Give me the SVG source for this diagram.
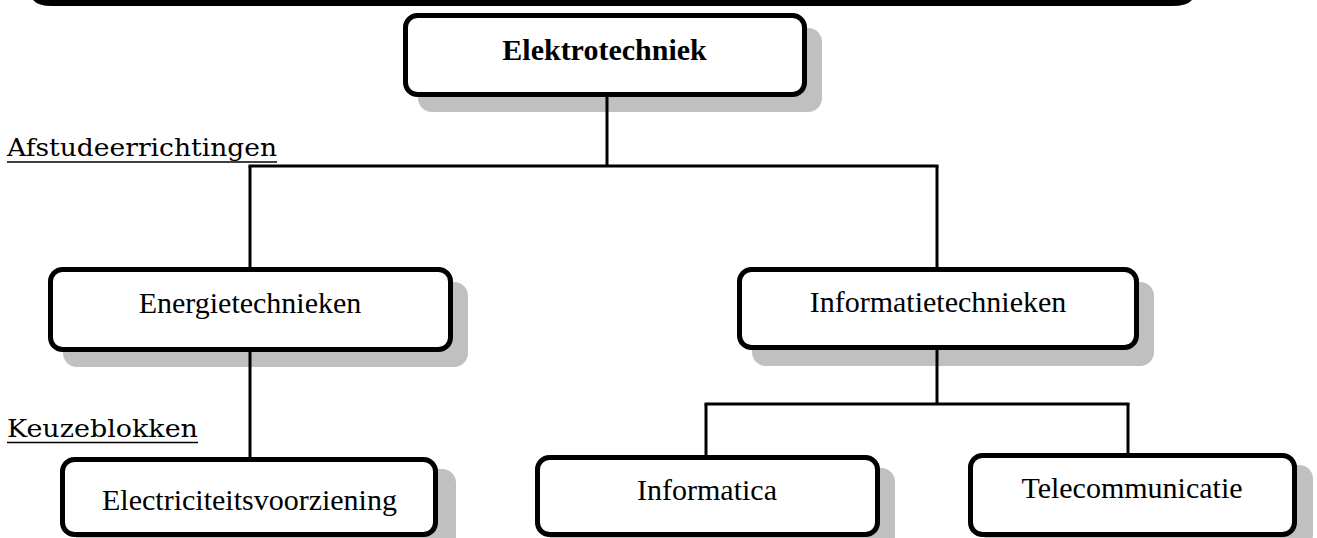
<svg xmlns="http://www.w3.org/2000/svg" width="1317" height="538" viewBox="0 0 1317 538">
<style>
.shadow{fill:#c0c0c0;stroke:none}
.box{fill:#ffffff;stroke:#000000;stroke-width:5}
.conn{stroke:#000000;stroke-width:3;fill:none}
.lbl{font-family:"Liberation Serif","Times New Roman",serif;font-size:30px;fill:#000000;text-anchor:middle}
.bold{font-weight:bold}
.head{font-family:"DejaVu Serif","Liberation Serif",serif;font-size:25px;fill:#000000}
.ul{stroke:#000000;stroke-width:1.5}
</style>
<rect width="1317" height="538" fill="#ffffff"/>
<path d="M33,0 Q38,6 52,6 L1172,6 Q1187,6 1192,0 Z" fill="#000000"/>
<g id="shadows">
<rect class="shadow" x="418" y="28" width="404" height="84" rx="14"/>
<rect class="shadow" x="63" y="282" width="405" height="85" rx="14"/>
<rect class="shadow" x="752" y="282" width="402" height="84" rx="14"/>
<rect class="shadow" x="76" y="469" width="380" height="82" rx="14"/>
<rect class="shadow" x="550" y="468" width="345" height="82" rx="14"/>
<rect class="shadow" x="984" y="465" width="329" height="84" rx="14"/>
</g>
<g id="connectors">
<line class="conn" x1="607" y1="97" x2="607" y2="166"/>
<line class="conn" x1="248.5" y1="166" x2="938.5" y2="166"/>
<line class="conn" x1="250" y1="166" x2="250" y2="268"/>
<line class="conn" x1="937" y1="166" x2="937" y2="268"/>
<line class="conn" x1="250" y1="350" x2="250" y2="458"/>
<line class="conn" x1="937" y1="348" x2="937" y2="404"/>
<line class="conn" x1="704.5" y1="404" x2="1129.5" y2="404"/>
<line class="conn" x1="706" y1="404" x2="706" y2="456"/>
<line class="conn" x1="1128" y1="404" x2="1128" y2="454"/>
</g>
<g id="node-elektrotechniek">
<rect class="box" x="405.5" y="15.5" width="399" height="79" rx="12"/>
<text class="lbl bold" x="604.5" y="59.5">Elektrotechniek</text>
</g>
<g id="node-energietechnieken">
<rect class="box" x="50.5" y="269.5" width="400" height="80" rx="12"/>
<text class="lbl" x="250" y="313">Energietechnieken</text>
</g>
<g id="node-informatietechnieken">
<rect class="box" x="739.5" y="269.5" width="397" height="78" rx="12"/>
<text class="lbl" x="938" y="312">Informatietechnieken</text>
</g>
<g id="node-electriciteitsvoorziening">
<rect class="box" x="62.5" y="459.5" width="373" height="75" rx="12"/>
<text class="lbl" x="249.5" y="510">Electriciteitsvoorziening</text>
</g>
<g id="node-informatica">
<rect class="box" x="537.5" y="457.5" width="340" height="77" rx="12"/>
<text class="lbl" x="707" y="500">Informatica</text>
</g>
<g id="node-telecommunicatie">
<rect class="box" x="970.5" y="455.5" width="324" height="79" rx="12"/>
<text class="lbl" x="1132" y="498">Telecommunicatie</text>
</g>
<g id="labels">
<text class="head" x="7" y="156" textLength="270" lengthAdjust="spacingAndGlyphs">Afstudeerrichtingen</text>
<line class="ul" x1="7" y1="162" x2="277" y2="162"/>
<text class="head" x="7" y="437" textLength="191" lengthAdjust="spacingAndGlyphs">Keuzeblokken</text>
<line class="ul" x1="7" y1="442.5" x2="198" y2="442.5"/>
</g>
</svg>
